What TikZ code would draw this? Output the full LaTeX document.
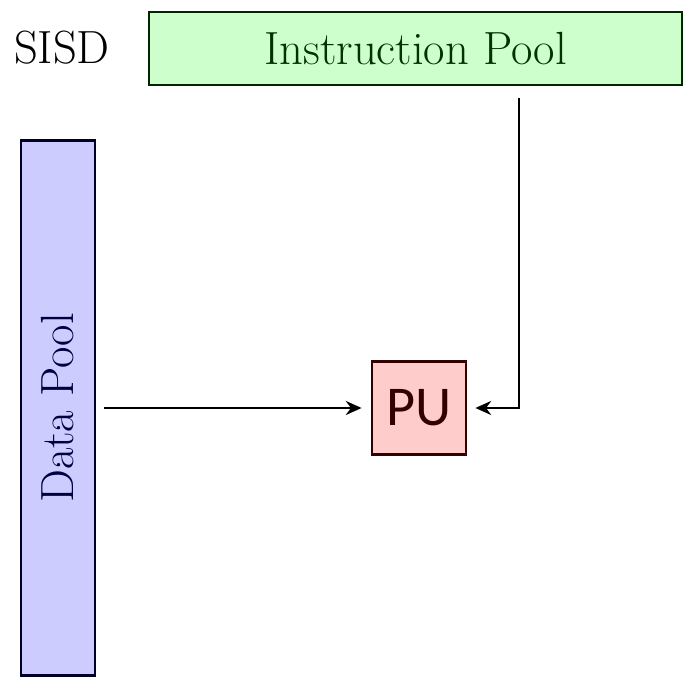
\documentclass[tikz,border=0pt]{standalone}
\usepackage{fontspec}
\usetikzlibrary{arrows.meta}
\newfontfamily\pufont{Carlito}
\definecolor{ipoolfill}{RGB}{204,255,204}
\definecolor{dpoolfill}{RGB}{204,204,255}
\definecolor{pufill}{RGB}{255,204,204}

\begin{document}
\begin{tikzpicture}[x=0.02cm, y=-0.02cm,
		box/.style={draw, line width=1.6pt, inner sep=0pt, font=\fontsize{26.5}{30}\selectfont},
		arr/.style={line width=1.3pt, -{Stealth[length=9pt, width=8pt]}}]
		\useasboundingbox (0, 0) rectangle (684, 678);

		\node [font=\fontsize{26.5}{30}\selectfont] (sisd) at (62, 48) {SISD};

		\node [box, fill=ipoolfill, draw=green!15!black, text=green!20!black,
		minimum width=10.66cm, minimum height=1.46cm] (ipool) at (415.5, 48.5)
		{Instruction Pool};

		\node [box, fill=dpoolfill, draw=blue!15!black, text=blue!25!black,
		rotate=90, minimum width=10.7cm, minimum height=1.48cm] (dpool) at (58, 408)
		{Data Pool};

		\node [box, fill=pufill, draw=red!20!black, text=red!20!black,
		font=\pufont\fontsize{32}{36}\selectfont,
		minimum width=1.88cm, minimum height=1.86cm] (pu) at (419, 408) {PU};

		\coordinate (turn) at (519, 408);

		\draw [arr, shorten <=0.16cm, shorten >=0.18cm] (dpool.south) -- (pu.west);
		\draw [arr, shorten <=0.24cm, shorten >=0.16cm] (ipool.south -| turn)
		-- (turn) -- (pu.east);
	\end{tikzpicture}
\end{document}
